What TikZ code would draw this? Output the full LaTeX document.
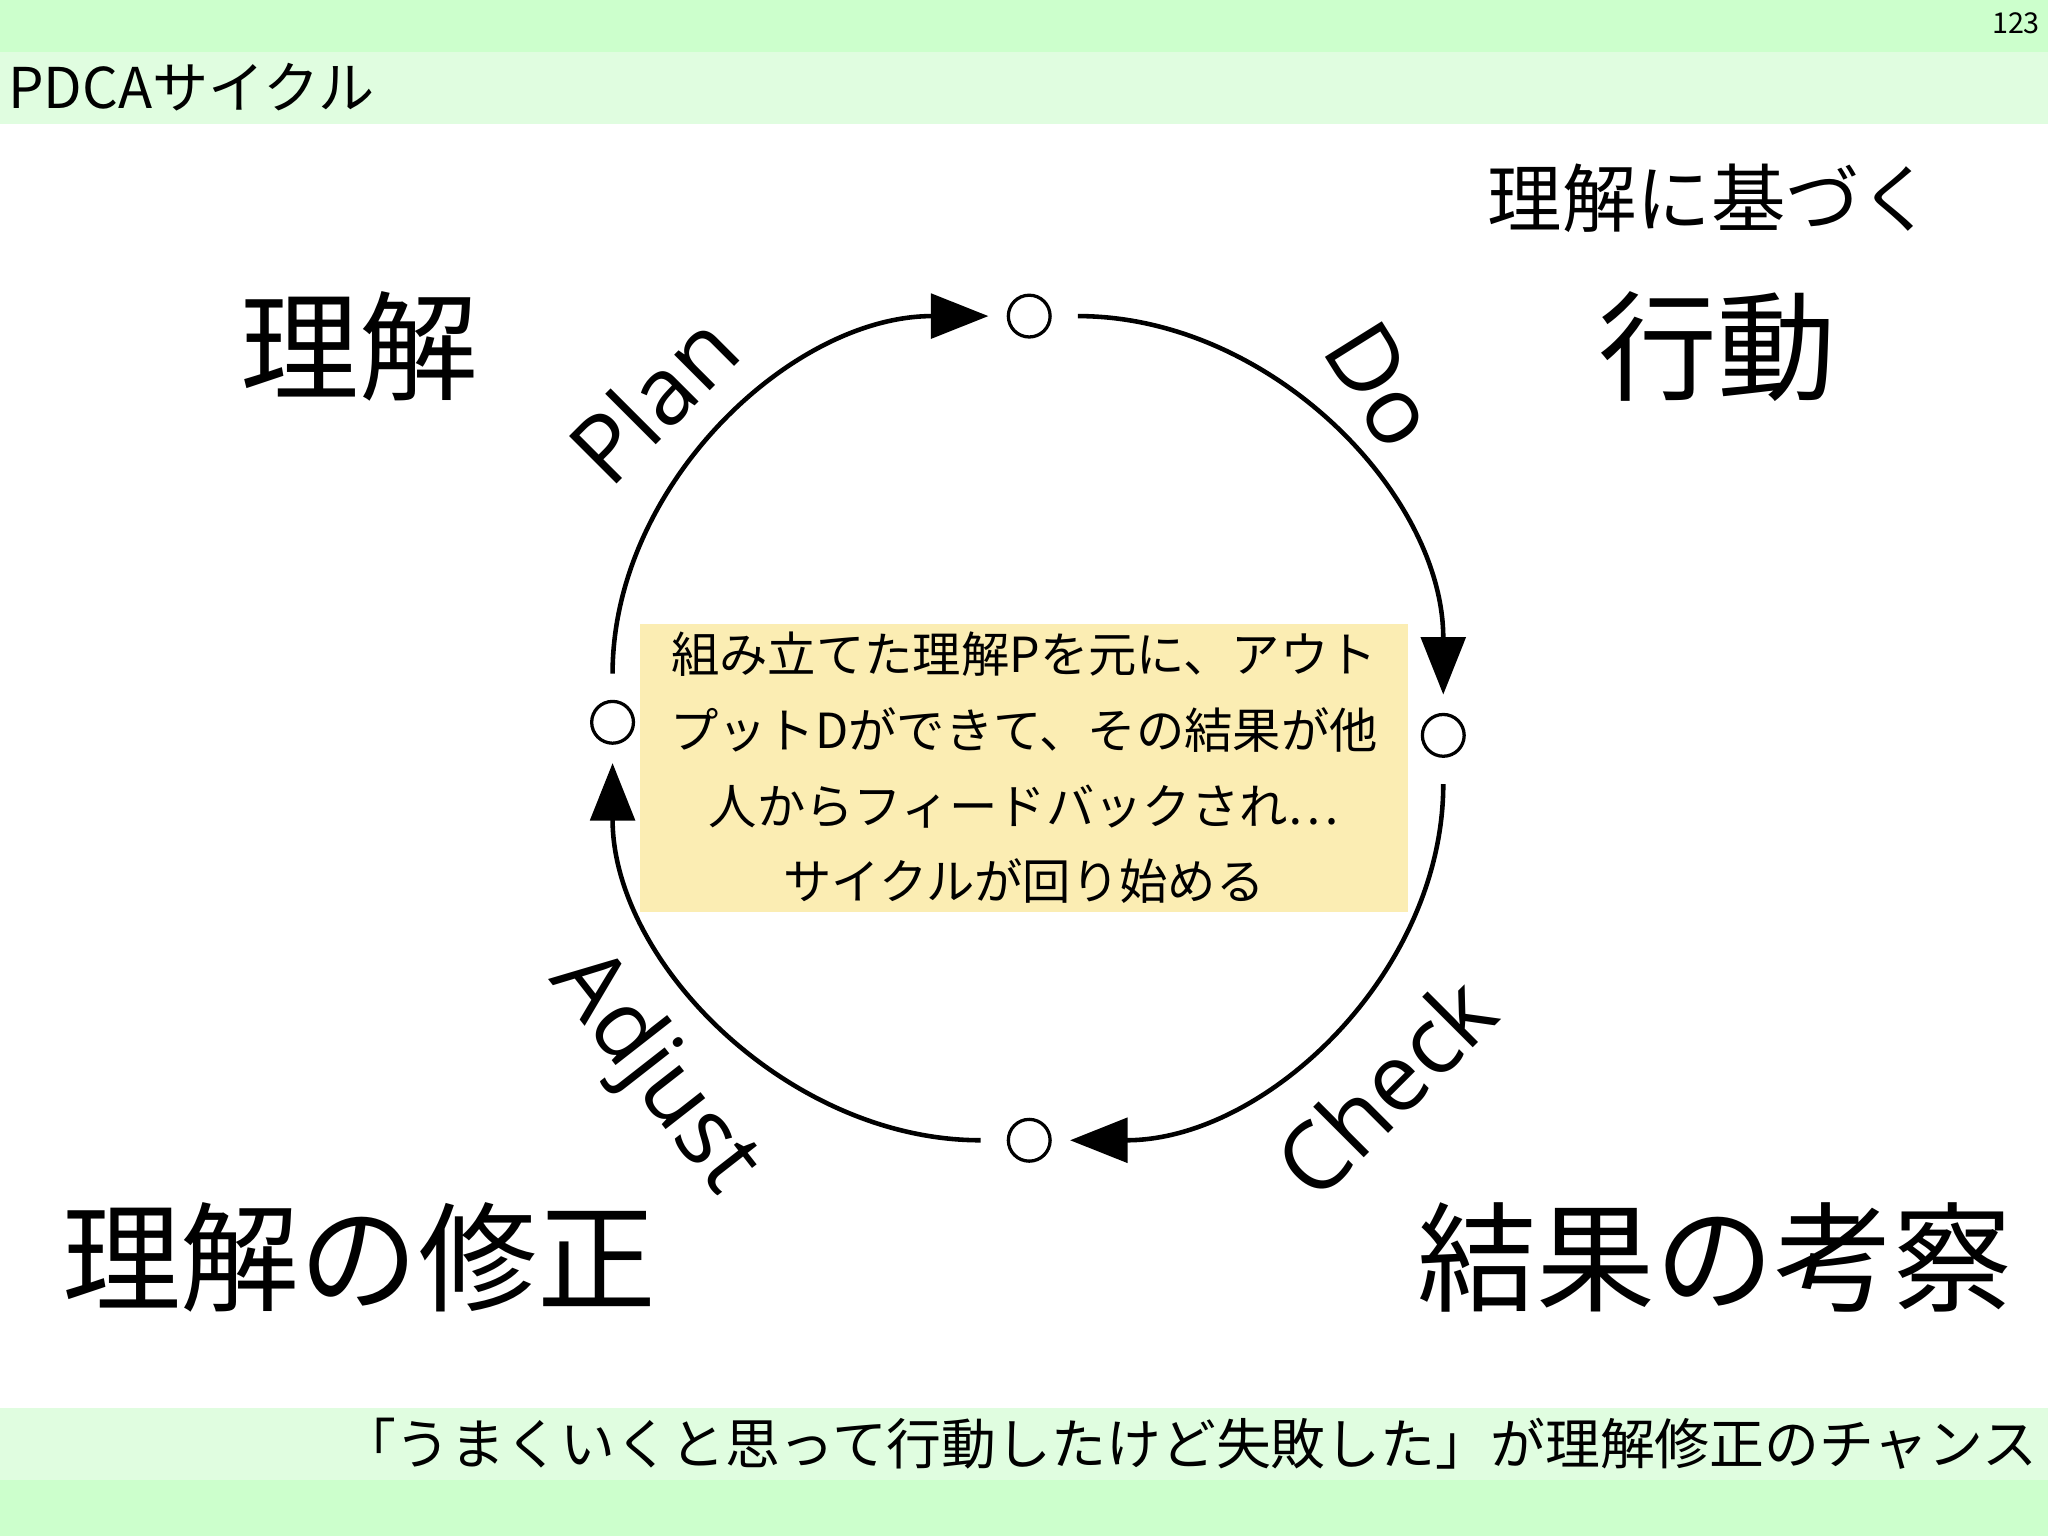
\documentclass[tikz,border=0pt]{standalone}
\usepackage{fontspec}
\setmainfont{Noto Sans CJK JP}
\newfontfamily\lab{Open Sans}
\usetikzlibrary{arrows.meta}
\definecolor{bandA}{HTML}{CCFFCC}
\definecolor{bandB}{HTML}{E0FDE0}
\definecolor{boxY}{HTML}{FBEDB3}
\tikzset{
 jp/.style={inner sep=0pt,font=\fontsize{#1}{#1}\selectfont},
 arcline/.style={line width=3.5pt,shorten <=20pt,shorten >=14pt,-{Triangle[length=44pt,width=34pt]}},
 dot/.style={circle,draw,line width=2.5pt,minimum size=32pt,inner sep=0pt,fill=white},
 steplab/.style={inner sep=0pt,font=\lab\fontsize{72}{72}\selectfont}
}
\begin{document}
\begin{tikzpicture}
\useasboundingbox (0,0) rectangle (1568pt,-1176pt);
\fill[bandA] (0,0) rectangle (1568pt,-40pt);
\fill[bandB] (0,-40pt) rectangle (1568pt,-95pt);
\fill[bandB] (0,-1078pt) rectangle (1568pt,-1133pt);
\fill[bandA] (0,-1133pt) rectangle (1568pt,-1176pt);
\node[jp=22,anchor=east] (pg) at (1562pt,-18pt) {123};
\node[jp=43,anchor=west] (title) at (6pt,-67pt) {PDCAサイクル};

\node[dot] (t) at (788pt,-242pt) {};
\node[dot] (r) at (1105pt,-563pt) {};
\node[dot] (b) at (788pt,-873pt) {};
\node[dot] (l) at (469pt,-553pt) {};

\draw[arcline] (l) to[out=90,in=180] (t);
\draw[arcline] (t) to[out=0,in=90] (r);
\draw[arcline] (r) to[out=-90,in=0] (b);
\draw[arcline] (b) to[out=180,in=-90] (l);

\node[fill=boxY,minimum width=588pt,minimum height=220pt,inner sep=0pt] (box) at (784pt,-588pt) {};
\node[jp=37,align=center,font=\fontsize{37}{58}\selectfont] (boxt) at (784pt,-588pt)
 {組み立てた理解Pを元に、アウト\\プットDができて、その結果が他\\人からフィードバックされ…\\サイクルが回り始める};

\node[steplab,rotate=45] (plan) at (500pt,-305pt) {Plan};
\node[steplab,rotate=-58] (do) at (1058pt,-295pt) {Do};
\node[steplab,rotate=45] (check) at (1060pt,-832pt) {Check};
\node[steplab,rotate=-52] (adj) at (500pt,-822pt) {Adjust};

\node[jp=91] (u1) at (275pt,-265pt) {理解};
\node[jp=57] (u2) at (1310pt,-152pt) {理解に基づく};
\node[jp=91] (u3) at (1315pt,-265pt) {行動};
\node[jp=91] (u4) at (275pt,-963pt) {理解の修正};
\node[jp=91] (u5) at (1313pt,-963pt) {結果の考察};
\node[jp=42,anchor=east] (foot) at (1560pt,-1105pt) {「うまくいくと思って行動したけど失敗した」が理解修正のチャンス};
\end{tikzpicture}
\end{document}
